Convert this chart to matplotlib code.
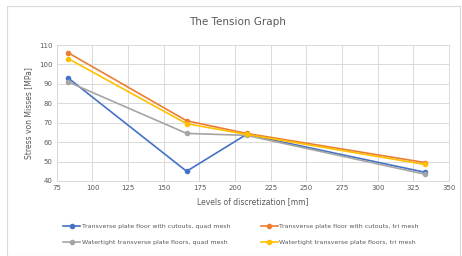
import matplotlib.pyplot as plt
from matplotlib.patches import Rectangle

# levels of discretization [mm]
levels = [83, 166, 208, 333]
cutouts_quad = [93, 45, 64, 44.5]
cutouts_tri = [106, 71, 64.5, 49.5]
watertight_quad = [91, 64.5, 63.5, 43.5]
watertight_tri = [103, 69.5, 64, 48.5]

names = ['Transverse plate floor with cutouts, quad mesh',
         'Transverse plate floor with cutouts, tri mesh',
         'Watertight transverse plate floors, quad mesh',
         'Watertight transverse plate floors, tri mesh']
series = [cutouts_quad, cutouts_tri, watertight_quad, watertight_tri]
colors = ['#4472C4', '#ED7D31', '#A5A5A5', '#FFC000']

txt = '#595959'

fig = plt.figure(figsize=(4.62, 2.56), dpi=100)
fig.patches.append(Rectangle((0.015, 0.0), 0.98, 0.975, transform=fig.transFigure,
                             fill=False, edgecolor='#D9D9D9', linewidth=0.8))
ax = fig.add_axes([0.123, 0.293, 0.849, 0.531])

for vals, name, c in zip(series, names, colors):
    ax.plot(levels, vals, color=c, marker='o', markersize=3, linewidth=1.2, label=name)

ax.set_xlim(75, 350)
ax.set_ylim(40, 110)
ax.set_xticks(range(75, 351, 25))
ax.set_yticks(range(40, 111, 10))
ax.grid(True, color='#D9D9D9', linewidth=0.7)
ax.set_axisbelow(True)
for s in ax.spines.values():
    s.set_color('#D9D9D9')
    s.set_linewidth(0.7)
ax.tick_params(length=0, labelsize=5, colors=txt, pad=3)

ax.set_xlabel('Levels of discretization [mm]', fontsize=5.5, color=txt, labelpad=4)
ax.set_ylabel('Stress von Misses [MPa]', fontsize=5.5, color=txt, labelpad=4)
fig.text(0.515, 0.915, 'The Tension Graph', ha='center', va='center', fontsize=7.5, color=txt)

# legend order: row-wise
order = [0, 2, 1, 3]
h, l = ax.get_legend_handles_labels()
fig.legend([h[i] for i in order], [l[i] for i in order], ncol=2, loc='center',
           bbox_to_anchor=(0.522, 0.084), frameon=False, fontsize=4.5,
           labelcolor=txt, handlelength=2.7, columnspacing=4.8, handletextpad=0.3,
           labelspacing=1.75)

fig.savefig('out.png', dpi=100)
